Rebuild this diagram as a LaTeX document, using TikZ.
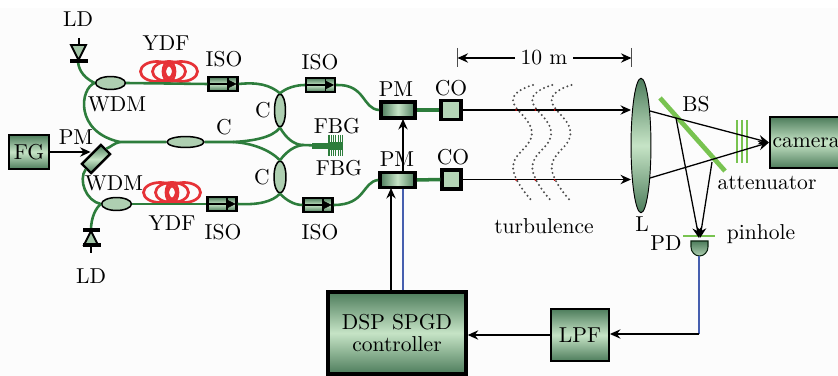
\documentclass[tikz,border=0pt]{standalone}
\usepackage{amsmath, amssymb}
\usepackage{fontspec}
\setmainfont{lmroman10-regular}[Extension=.otf]
\usetikzlibrary{calc,arrows.meta,shapes.geometric}
\definecolor{fibre}{RGB}{45,125,60}
\definecolor{pale}{RGB}{198,228,198}
\definecolor{deep}{RGB}{78,125,92}
\definecolor{beam}{RGB}{120,195,80}
\definecolor{sig}{RGB}{70,95,175}
\definecolor{coil}{RGB}{230,50,55}
\newcommand{\capfont}{\fontsize{18.4}{18.4}\selectfont}
\begin{document}
\begin{tikzpicture}[
  x=0.03cm,y=-0.03cm,
  every node/.style={font=\capfont},
  lbl/.style={inner sep=0pt},
  sz/.style 2 args={minimum width=#1*0.85pt,minimum height=#2*0.85pt},
  box/.style={draw=black,line width=#1,top color=deep,bottom color=deep,middle color=pale,inner sep=0pt},
  box/.default=1.2pt,
  sidebox/.style={box=#1,shading angle=90},
  oval/.style={draw=black,line width=1.3pt,ellipse,inner sep=0pt,fill=pale!80!deep},
  fibre line/.style={draw=fibre,line width=2.2pt},
  ray/.style={draw=black,line width=1.1pt,-{Stealth[length=9pt,width=8pt,inset=3pt]}},
  plainray/.style={draw=black,line width=1.1pt},
  dots/.style={line width=1.9pt,line cap=round,dash pattern=on 0pt off 3.8pt,black!70}
  ]
\clip (0,0) rectangle (838,376);
\fill[white!99!black] (0,8) rectangle (838,376);
\def\isow{29}
\def\isoh{14}
% fibres
\coordinate (ldOutA) at (78,62);
\coordinate (ldOutB) at (91,230);
\coordinate (junction) at (120,142);
\coordinate (split) at (233,142);
\coordinate (fbgJoin) at (303,145);
\coordinate (fbgEnd) at (330,146);
% fibre couplers and wdm
\node[oval,sz={30}{13}] (wdmA) at (110.5,83){};
\node[oval,sz={30}{13}] (wdmB) at (116.5,204){};
\node[oval,sz={37}{11}] (coupler) at (185.5,142){};
\node[oval,sz={11}{33}] (cA) at (280,110.5){};
\node[oval,sz={12}{32}] (cB) at (280,177){};
% phase modulators
\node[box=2pt,rotate=45,sz={27}{13}] (pmA) at (96,159){};
\node[sidebox=3.2pt,sz={34}{16}] (pmB) at (398,110){};
\node[sidebox=3.2pt,sz={35}{15}] (pmC) at (397.5,180){};
% collimators
\node[draw=black,line width=3pt,fill=pale!85!deep,sz={20}{19}] (coA) at (451,110){};
\node[draw=black,line width=3pt,fill=pale!85!deep,sz={19}{19}] (coB) at (451.5,179.5){};
% isolators
\foreach \nm/\px/\py in {isoA/223/84,isoB/222/204,isoC/320.5/85,isoD/318/205}{
  \node[box=2pt,sz={\isow}{\isoh}] (\nm) at (\px,\py){};
  \draw[line width=0.9pt] (\nm.west) -- ++(20,0);
  \draw[line width=0.9pt] ($(\nm.center)+(5,-7)$) -- ++(0,14);
  \draw[fill=black] ($(\nm.center)+(5,-4)$) -- ($(\nm.center)+(13,0)$) -- ($(\nm.center)+(5,4)$) -- cycle;
}
\draw[fibre line] (ldOutA) .. controls (79,72) and (86,79) .. (wdmA.west);
\draw[fibre line] (wdmA.west) .. controls (80,88) and (74,132) .. (junction) -- (coupler.west);
\draw[fibre line] (pmA.east) .. controls (111,147) and (114,143) .. (junction);
\draw[fibre line] (pmA.west) .. controls (78,180) and (86,201) .. (wdmB.west);
\draw[fibre line] (wdmB.west) .. controls (96,208) and (91,217) .. (ldOutB);
\draw[fibre line] (isoA.east) .. controls (258,82) and (270,85) .. (cA.north);
\draw[fibre line] (isoB.east) .. controls (258,205) and (272,202) .. (cB.south);
\draw[fibre line] (coupler.east) -- (split) .. controls (252,141) and (272,138) .. (cA.south);
\draw[fibre line] (split) .. controls (252,143) and (270,150) .. (cB.north);
\draw[fibre line] (cA.north) .. controls (286,88) and (296,85) .. (isoC.west);
\draw[fibre line] (cB.south) .. controls (286,200) and (294,205) .. (isoD.west);
\draw[fibre line] (cA.south) .. controls (286,138) and (294,145) .. (fbgJoin);
\draw[fibre line] (cB.north) .. controls (286,152) and (294,146) .. (fbgJoin);
\draw[fibre line] (fbgJoin) -- (fbgEnd);
\draw[fibre,line width=4.5pt] (312,146) -- (fbgEnd);
\foreach \i in {0,...,6}{
  \draw[fibre,line width=1pt] ({329+\i*2.3},135) -- ({329+\i*2.3},156);
}
\fill[fibre] (328,142) rectangle (343,150);
\draw[fibre line] (isoC.east) .. controls (366,84) and (362,109) .. (pmB.west);
\draw[fibre line] (isoD.east) .. controls (366,205) and (362,182) .. (pmC.west);
\draw[fibre line,line width=3pt] (pmB.east) -- (coA.west);
\draw[fibre line,line width=3pt] (pmC.east) -- (coB.west);
% fibre coils
\foreach \ox/\oy in {169/71.5,172/192.5}{
  \foreach \dx in {-12,0,12}{
    \draw[coil,line width=2.3pt] ({\ox+\dx},\oy) ellipse [x radius=16.5,y radius=10];
  }
  \draw[coil,line width=2.3pt] (\ox,\oy) ellipse [x radius=6,y radius=10];
}
\draw[fibre line] (wdmA.east) -- (isoA.west);
\draw[fibre line] (wdmB.east) -- (isoB.west);
% laser diodes
\draw[line width=1.6pt,fill=pale!70!deep] (71,45) -- (86,45) -- (78.5,60) -- cycle;
\draw[line width=2.6pt] (70,61) -- (88,61);
\draw[line width=2pt] (79,38) -- (79,45);
\draw[line width=1.6pt,fill=pale!70!deep] (84,245) -- (98,245) -- (91,231) -- cycle;
\draw[line width=2.6pt] (83,230) -- (100,230);
\draw[line width=2.6pt] (83,245) -- (101,245);
\draw[line width=2pt] (91,245) -- (91,253);
% big boxes
\node[box=2.4pt,sz={40}{34}] (fg) at (29,152){FG};
\node[box=3.4pt,sz={138}{82},align=center] (dsp) at (397,333){DSP SPGD\\controller};
\node[box=1.8pt,sz={58}{52}] (lpf) at (580,335){LPF};
\node[box=2pt,sz={69}{51},anchor=west,inner xsep=2pt] (cam) at (769,142.5){camera};
% lens
\node[box=0.8pt,ellipse,sz={20}{135}] (lens) at (641,145.5){};
% beams
\coordinate (hitA) at (631,110);
\coordinate (hitB) at (631,179.5);
\draw[ray] (coA.east) -- (hitA);
\draw[ray] (coB.east) -- (hitB);
\draw[beam,line width=4pt] (660,98) -- (725,171);
\foreach \px in {737,742,747}{
  \draw[beam,line width=1.5pt] (\px,120) -- (\px,163);
}
\coordinate (lensA) at (650,111);
\coordinate (lensB) at (650,178);
\coordinate (bsA) at (676,118);
\coordinate (bsB) at (712,162);
\coordinate (holeA) at (699,238);
\coordinate (holeB) at (700,238);
\draw[plainray] (lensA) -- (bsA);
\draw[ray] (bsA) -- (cam.west);
\draw[ray] (lensB) -- (cam.west);
\draw[beam,line width=2.4pt] (683,236) -- (715,236);
\draw[ray] (bsA) -- (holeA);
\draw[ray] (bsB) -- (holeB);
\draw[draw=black!70!fibre,line width=0.9pt,top color=deep,bottom color=pale!80!deep] (691,241) -- (708,241) -- (708,247) .. controls (708,252) and (704,256) .. (699.5,256) .. controls (695,256) and (691,252) .. (691,247) -- cycle;
% electronics
\coordinate (pdOut) at (699,256);
\coordinate (pdCorner) at (699,334);
\draw[ray] (fg.east) -- (fg.east -| pmA.north);
\draw[ray] (dsp.north -| 391,0) -- (391,188);
\draw[sig,line width=1.1pt] (dsp.north -| 403,0) -- (pmC.south -| 403,0);
\draw[ray] (pmC.north -| 403,0) -- (403,119);
\draw[sig,line width=1.1pt] (pdOut) -- (pdCorner);
\draw[ray] (pdCorner) -- (lpf.east |- pdCorner);
\draw[ray] (lpf.west) -- (lpf.west -| dsp.east);
% distance
\coordinate (distL) at (457.5,58);
\coordinate (distR) at (631.5,58);
\node[lbl] (dist) at (544,58){10 m};
\draw[black!70] ($(distL)+(0,-10)$) -- ($(distL)+(0,9)$);
\draw[black!70] ($(distR)+(0,-10)$) -- ($(distR)+(0,9)$);
\draw[ray] (515,58) -- (distL);
\draw[ray] (573,58) -- (distR);
% turbulence
\foreach \ox in {0,19.3,38.6}{
  \draw[dots] plot[smooth,tension=0.75] coordinates {({533+\ox},85) ({513+\ox},100) ({532+\ox},133) ({513+\ox},167) ({532+\ox},201)};
  \fill[red!80!black] ({516+\ox},110) circle (1);
  \fill[red!80!black] ({516+\ox},180) circle (1);
}
% labels
\node[lbl] (tLDa) at (78,19){LD};
\node[lbl] (tYDFa) at (166,43){YDF};
\node[lbl] (tISOa) at (224,59){ISO};
\node[lbl] (tISOb) at (320,62){ISO};
\node[lbl] (tWDMa) at (117,104){WDM};
\node[lbl] (tPMa) at (76,137){PM};
\node[lbl] (tCa) at (224,127){C};
\node[lbl] (tCb) at (263,110){C};
\node[lbl] (tCc) at (262,177){C};
\node[lbl] (tFBGa) at (337,126){FBG};
\node[lbl] (tFBGb) at (339,168){FBG};
\node[lbl] (tPMb) at (396,89){PM};
\node[lbl] (tPMc) at (397,159){PM};
\node[lbl] (tCOa) at (451,88){CO};
\node[lbl] (tCOb) at (453,157){CO};
\node[lbl] (tWDMb) at (114,183){WDM};
\node[lbl] (tYDFb) at (172,223){YDF};
\node[lbl] (tISOc) at (223,232){ISO};
\node[lbl] (tISOd) at (320,232){ISO};
\node[lbl] (tLDb) at (91,276){LD};
\node[lbl] (tTurb) at (544,226){turbulence};
\node[lbl] (tL) at (642,224){L};
\node[lbl] (tBS) at (696,104){BS};
\node[lbl] (tAtt) at (767,183){attenuator};
\node[lbl] (tPD) at (666,243){PD};
\node[lbl] (tHole) at (761,234){pinhole};
\end{tikzpicture}
\end{document}
